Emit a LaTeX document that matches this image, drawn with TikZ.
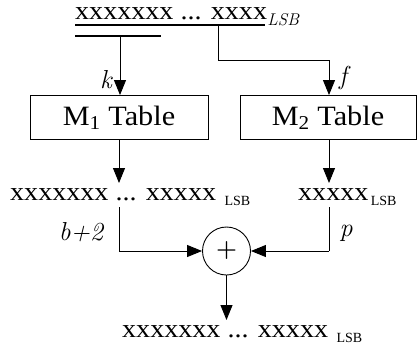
\documentclass[tikz,border=0pt]{standalone}
\usepackage{fontspec}
\newfontfamily\tnr{Liberation Serif}
\usepackage{graphicx}
\usetikzlibrary{arrows.meta}
\newcommand{\bigtxt}{\tnr\fontsize{26}{26}\selectfont}
\newcommand{\tbltxt}{\tnr\fontsize{28}{28}\selectfont}
\newcommand{\lsbtxt}{\tnr\fontsize{14}{14}\selectfont}
\newcommand{\wide}[1]{\scalebox{1.08}[1]{#1}}
\begin{document}
\begin{tikzpicture}[x=1pt,y=-1pt,
  wire/.style={line width=0.9pt},
  bus/.style={line width=2.4pt},
  tip/.style={wire,-{Triangle[width=12pt,length=15pt]}},
  tablebox/.style={draw,line width=0.9pt,minimum width=178pt,minimum height=44pt,inner sep=0pt,font=\tbltxt},
  bits/.style={inner sep=0pt,anchor=base west,font=\bigtxt},
  lsb/.style={inner sep=0pt,anchor=base west,font=\lsbtxt},
  lbl/.style={inner sep=0pt,font=\fontsize{26}{26}\selectfont\itshape},
  adder/.style={draw,circle,line width=0.9pt,minimum size=48pt,inner sep=0pt}]
\useasboundingbox (0,0) rectangle (417,349);

% input word and its two bit fields
\node[bits] (inword) at (75,19) {\wide{xxxxxxx ... xxxx}};
\node[lsb,font=\fontsize{17}{17}\selectfont\itshape] (inlsb) at (inword.base east) [yshift=-6pt] {LSB};
\coordinate (fieldAl) at (75,25);
\coordinate (fieldAr) at (265,25);
\coordinate (fieldBl) at (75,36);
\coordinate (fieldBr) at (161,36);
\draw[bus] (fieldAl) -- (fieldAr);
\draw[bus] (fieldBl) -- (fieldBr);

% lookup tables
\node[tablebox] (m1) at (119,117.5) {\wide{M\textsubscript{1} Table}};
\node[tablebox,minimum width=176pt] (m2) at (328,117.5) {\wide{M\textsubscript{2} Table}};

% table addresses
\coordinate (kfrom) at (120,36);
\draw[tip] (kfrom) -- (kfrom |- m1.north);
\node[lbl] (k) at (106,80) {k};
\coordinate (ffrom) at (218,25);
\coordinate (fbend) at (218,60);
\coordinate (fcorner) at (329,60);
\draw[wire] (ffrom) -- (fbend) -- (fcorner);
\draw[tip] (fcorner) -- (fcorner |- m2.north);
\node[lbl] (f) at (343,78) {f};

% table outputs
\node[bits] (outA) at (10,200) {\wide{xxxxxxx ... xxxxx}};
\node[lsb] (outAlsb) at (outA.base east) [xshift=8pt,yshift=-5pt] {LSB};
\node[bits] (outB) at (298,200) {\wide{xxxxx}};
\node[lsb] (outBlsb) at (outB.base east) [xshift=2pt,yshift=-5pt] {LSB};
\coordinate (aend) at (119,183);
\coordinate (bend) at (329,183);
\draw[tip] (m1.south) -- (aend);
\draw[tip] (m1.south -| bend) -- (bend);

% adder
\node[adder] (sum) at (226.5,251) {\fontsize{24}{24}\selectfont\bfseries +};
\coordinate (aup) at (119,207);
\coordinate (bup) at (329,207);
\draw[wire] (aup) -- (aup |- sum.west);
\draw[tip] (aup |- sum.west) -- (sum.west);
\draw[wire] (bup) -- (bup |- sum.east);
\draw[tip] (bup |- sum.east) -- (sum.east);
\node[lbl] (bw) at (81,232) {b+2};
\node[lbl] (pw) at (346,233) {p};

% result word
\node[bits] (res) at (122,337) {\wide{xxxxxxx ... xxxxx}};
\node[lsb] (reslsb) at (res.base east) [xshift=8pt,yshift=-5pt] {LSB};
\coordinate (rend) at (226.5,320);
\draw[tip] (sum.south) -- (rend);
\end{tikzpicture}
\end{document}
